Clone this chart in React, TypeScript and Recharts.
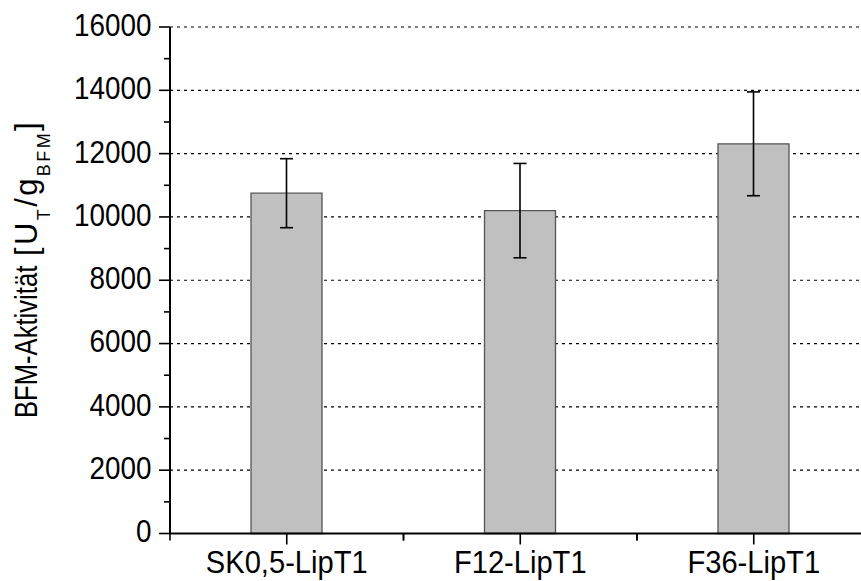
import React from 'react';
import { BarChart, Bar, XAxis, YAxis, CartesianGrid, ErrorBar } from 'recharts';

const categories = ['SK0,5-LipT1', 'F12-LipT1', 'F36-LipT1'];
const activity = [10750, 10200, 12310];
const errors = [1090, 1490, 1640];
const yMajorTicks = [0, 2000, 4000, 6000, 8000, 10000, 12000, 14000, 16000];
const yAllTicks = [0, 1000, 2000, 3000, 4000, 5000, 6000, 7000, 8000, 9000, 10000, 11000, 12000, 13000, 14000, 15000, 16000];

const data = categories.map((name, i) => ({ name, value: activity[i], err: errors[i] }));

const FONT = '"Liberation Sans", Arial, sans-serif';

const YTick = (props: any) => {
  const { x, y, payload } = props;
  const v = payload.value;
  const major = v % 2000 === 0;
  return (
    <g>
      <line x1={x - (major ? 11 : 6)} y1={y} x2={x} y2={y} stroke="#000" strokeWidth={1.6} />
      {major && (
        <g transform={`translate(${x - 18.5},${y})`}>
          <text transform="scale(0.87,1)" textAnchor="end" dy={8.9} fontSize={32} fontFamily={FONT} fill="#000">
            {v}
          </text>
        </g>
      )}
    </g>
  );
};

const XTick = (props: any) => {
  const { x, y, payload } = props;
  const half = payload && payload.offset ? payload.offset : 116.75;
  return (
    <g>
      <line x1={x} y1={y} x2={x} y2={y + 11} stroke="#000" strokeWidth={1.6} />
      <line x1={x - half} y1={y} x2={x - half} y2={y + 7} stroke="#000" strokeWidth={1.6} />
      <line x1={x + half} y1={y} x2={x + half} y2={y + 7} stroke="#000" strokeWidth={1.6} />
      <g transform={`translate(${x},${y})`}>
        <text transform="scale(0.91,1)" textAnchor="middle" dy={39.3} fontSize={32} fontFamily={FONT} fill="#000">
          {payload.value}
        </text>
      </g>
    </g>
  );
};

const YLabel = () => (
  <g transform="translate(36.7,418) rotate(-90)" fontFamily={FONT} fill="#000">
    <text x={0} y={0} fontSize={30.5} transform="scale(0.84,1)">BFM-Aktivität</text>
    <text x={162} y={0} fontSize={31} letterSpacing={2.4}>
      [U<tspan fontSize={18} dy={13}>T</tspan>
      <tspan dy={-13}>/g</tspan>
      <tspan fontSize={18} dy={13}>BFM</tspan>
      <tspan dy={-13}>]</tspan>
    </text>
  </g>
);

export default function App() {
  return (
    <div style={{ position: 'absolute', left: 0, top: 0, width: 861, height: 581, overflow: 'hidden', background: '#fff' }}>
      <BarChart
        width={881}
        height={581}
        data={data}
        margin={{ top: 27, right: 10.5, left: 0, bottom: 0 }}
      >
        <CartesianGrid
          xAxisId="main"
          yAxisId="main"
          vertical={false}
          horizontalValues={yMajorTicks}
          stroke="#000"
          strokeWidth={1.2}
          strokeDasharray="3 4"
        />
        <XAxis
          xAxisId="main"
          dataKey="name"
          height={47.5}
          interval={0}
          tickSize={0}
          tickMargin={0}
          tickLine={false}
          tick={<XTick />}
          axisLine={{ stroke: '#000', strokeWidth: 2 }}
        />
        <YAxis
          yAxisId="main"
          width={170}
          domain={[0, 16000]}
          ticks={yAllTicks}
          interval={0}
          tickSize={0}
          tickMargin={0}
          tickLine={false}
          tick={<YTick />}
          axisLine={{ stroke: '#000', strokeWidth: 2 }}
          label={{ value: '', content: () => <YLabel /> }}
        />
        <Bar
          xAxisId="main"
          yAxisId="main"
          dataKey="value"
          barSize={71}
          fill="#c0c0c0"
          stroke="#555"
          strokeWidth={1.3}
          isAnimationActive={false}
        >
          <ErrorBar dataKey="err" width={6.5} stroke="#000" strokeWidth={1.6} direction="y" isAnimationActive={false} />
        </Bar>
      </BarChart>
    </div>
  );
}
